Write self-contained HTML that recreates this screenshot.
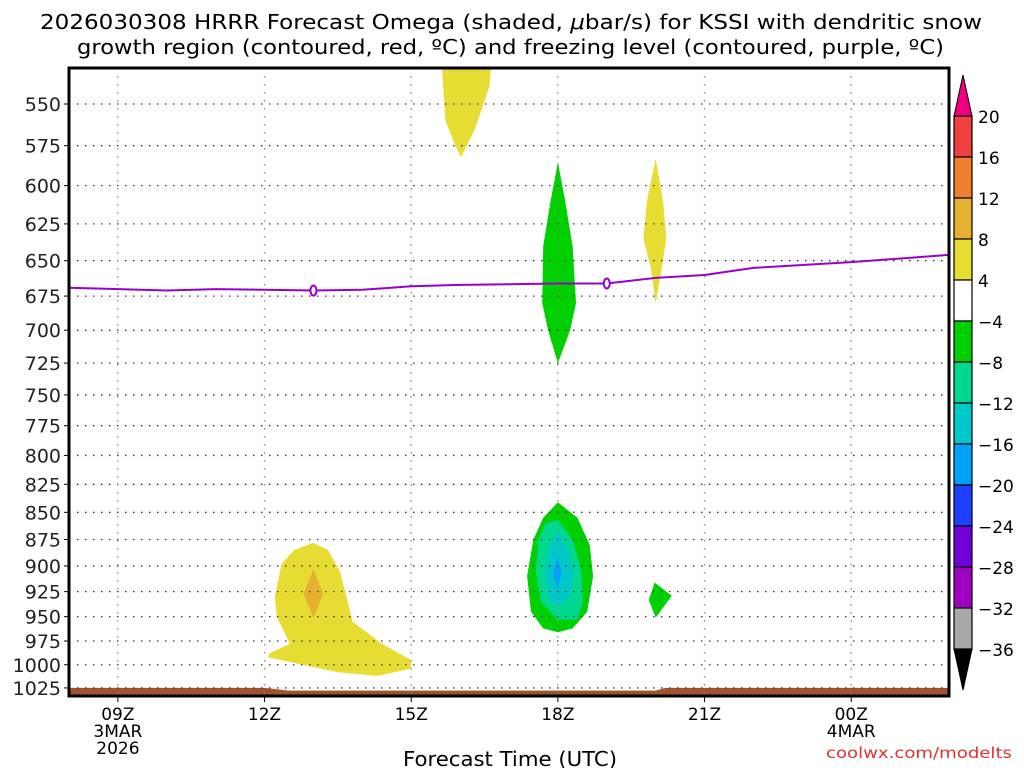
<!DOCTYPE html>
<html><head><meta charset="utf-8"><style>
body{margin:0;background:#fff;width:1024px;height:768px;overflow:hidden;font-family:"DejaVu Sans","Liberation Sans",sans-serif}
svg text{font-family:"DejaVu Sans","Liberation Sans",sans-serif}
</style></head><body>
<svg id="chart" width="1024" height="768" xmlns="http://www.w3.org/2000/svg">
<text x="40" y="29" font-size="20" textLength="942" lengthAdjust="spacingAndGlyphs">2026030308 HRRR Forecast Omega (shaded, <tspan font-style="italic">μ</tspan>bar/s) for KSSI with dendritic snow</text>
<text x="77" y="54" font-size="20" textLength="867" lengthAdjust="spacingAndGlyphs">growth region (contoured, red, ºC) and freezing level (contoured, purple, ºC)</text>
<g id="plot"></g>
<text x="403" y="766" font-size="20" textLength="214" lengthAdjust="spacingAndGlyphs">Forecast Time (UTC)</text>
<text x="826" y="758" font-size="15" fill="#e03030" textLength="186" lengthAdjust="spacingAndGlyphs">coolwx.com/modelts</text>
<g id="cbar"></g>
</svg>
<script>
const pLevels=[550,575,600,625,650,675,700,725,750,775,800,825,850,875,900,925,950,975,1000,1025];
const timeTicks=[9,12,15,18,21,24];
const timeLabels=["09Z","12Z","15Z","18Z","21Z","00Z"];
const dateLabels={9:["3MAR","2026"],24:["4MAR"]};
const frzHours=[8,10,11,13,14,15,16,18,19,20,21,22,24,26];
const frzPres=[669,671,670,671,670.5,668,667,666,666,662,660,655,651,646];
const frzMarkHours=[13,19];
const shadeColors=["#e6dc32","#00d000","#e6dc32","#e6dc32","#e6b030","#00d000","#00d890","#00c8c8","#00a0ff","#00d000"];
const shadeHours=[
[15.62,15.7,15.9,16.02,16.3,16.6,16.65],
[18.0,18.15,18.3,18.37,18.25,18.0,17.8,17.68,17.7,17.85],
[20.0,20.15,20.22,20.1,20.0,19.9,19.75,19.82],
[12.99,13.3,13.54,13.7,13.8,14.4,15.0,15.0,14.3,13.5,12.07,12.1,12.52,12.25,12.21,12.35,12.6],
[13.0,13.2,13.0,12.8],
[18.0,18.4,18.65,18.72,18.6,18.3,18.0,17.7,17.45,17.37,17.5,17.7],
[18.0,18.3,18.48,18.51,18.4,18.0,17.65,17.55,17.6,17.75],
[18.0,18.2,18.33,18.25,18.0,17.8,17.73,17.8],
[17.99,18.08,17.99,17.9],
[19.98,20.33,20.0,19.86]];
const shadePres=[
[525,560,575,582,565,540,525],
[585,610,640,680,700,725,700,680,640,610],
[583,610,635,660,680,655,635,610],
[878,885,905,935,955,978,995,1004,1012,1008,992,988,978,950,930,898,885],
[903,927,951,927],
[841,855,880,910,945,962,966,962,945,910,875,855],
[857,875,905,935,953,953,935,905,875,860],
[867,885,905,930,940,930,905,885],
[892,907,922,907],
[916,929,951,933]];
const terrHours=[8,12,12.5,20,20.2,26];
const terrPres=[1025,1025,1028,1028,1025,1025];
const cbLevels=[20,16,12,8,4,-4,-8,-12,-16,-20,-24,-28,-32,-36];
const cbColors=["#f04040","#f08030","#e6b030","#e6dc32","#ffffff","#00d000","#00d890","#00c8c8","#00a0ff","#2040ff","#7000d8","#a000c0","#a8a8a8"];

const L=69,R=949,T=68,B=696,t0=8,t1=26;
const X=h=>L+(h-t0)/(t1-t0)*(R-L);
const Y=p=>104+938*Math.log(p/550);
const NS="http://www.w3.org/2000/svg";
function mk(tag,attrs,parent){const e=document.createElementNS(NS,tag);for(const k in attrs)e.setAttribute(k,attrs[k]);parent.appendChild(e);return e;}
const svg=document.getElementById('chart');
const plot=document.getElementById('plot');
const defs=mk('defs',{},svg);
const cp=mk('clipPath',{id:'clip'},defs);
mk('rect',{x:L,y:T,width:R-L,height:B-T},cp);
const inner=mk('g',{'clip-path':'url(#clip)'},plot);
shadeHours.forEach((hs,i)=>{
 const pts=hs.map((h,j)=>X(h).toFixed(1)+','+Y(shadePres[i][j]).toFixed(1)).join(' ');
 const e=mk('polygon',{points:pts,fill:shadeColors[i]},inner);
 
 
});
{const pts=terrHours.map((h,j)=>X(h)+','+Y(terrPres[j])).join(' ')+' '+X(26)+','+B+' '+X(8)+','+B;
 const e=mk('polygon',{points:pts,fill:'#a0522d'},inner);
 
 }
pLevels.forEach(p=>{
 const y=Y(p);
 const g=mk('line',{x1:L,x2:R,y1:y,y2:y,stroke:'#333','stroke-width':1.3,'stroke-dasharray':'1.5 6.5'},inner);
 
 
 mk('line',{x1:L-5,x2:L,y1:y,y2:y,stroke:'#000'},plot);
 const t=mk('text',{x:L-8,y:y+7,'font-size':19,'text-anchor':'end',fill:'#222'},plot);
 t.textContent=p;
 
 
});
timeTicks.forEach((h,i)=>{
 const x=X(h);
 const g=mk('line',{x1:x,x2:x,y1:T,y2:B,stroke:'#888','stroke-width':1.3,'stroke-dasharray':'1.5 6.5'},inner);
 
 
 mk('line',{x1:x,x2:x,y1:B,y2:B+6,stroke:'#000'},plot);
 const t=mk('text',{x:x,y:720,'font-size':17,'text-anchor':'middle'},plot);
 t.textContent=timeLabels[i];
 
 
 (dateLabels[h]||[]).forEach((s,k)=>{
  const d=mk('text',{x:x,y:737+k*17,'font-size':17,'text-anchor':'middle'},plot);
  d.textContent=s;
  
  
 });
});
{const pts=frzHours.map((h,j)=>X(h).toFixed(1)+','+Y(frzPres[j]).toFixed(1)).join(' ');
 const e=mk('polyline',{points:pts,fill:'none',stroke:'#9900cc','stroke-width':2},inner);
 
 
 frzMarkHours.forEach(h=>{
  let j=frzHours.findIndex(v=>v>=h);let p=frzPres[j];
  if(frzHours[j]!==h){const a=frzHours[j-1],b=frzHours[j];p=frzPres[j-1]+(frzPres[j]-frzPres[j-1])*(h-a)/(b-a);}
  const m=mk('ellipse',{cx:X(h),cy:Y(p),rx:3,ry:5,fill:'#fff',stroke:'#9900cc','stroke-width':2},inner);
  
  
 });}
mk('rect',{x:L,y:T,width:R-L,height:B-T,fill:'none',stroke:'#000','stroke-width':3},plot);
const cb=document.getElementById('cbar');
const bx=954,bw=18,by0=116,step=41;
mk('polygon',{points:`${bx},${by0} ${bx+bw},${by0} ${bx+bw/2},75`,fill:'#f00080',stroke:'#000'},cb);
const bb=by0+step*13;
mk('polygon',{points:`${bx},${bb} ${bx+bw},${bb} ${bx+bw/2},690`,fill:'#000',stroke:'#000'},cb);
cbColors.forEach((c,i)=>{
 const r=mk('rect',{x:bx,y:by0+i*step,width:bw,height:step,fill:c,stroke:'#000','stroke-width':1.2},cb);
 
 
});
cbLevels.forEach((v,i)=>{
 const t=mk('text',{x:978,y:by0+i*step+7,'font-size':17},cb);
 t.textContent=v<0?'\u2212'+(-v):v;
 
 
});
</script>
</body></html>
